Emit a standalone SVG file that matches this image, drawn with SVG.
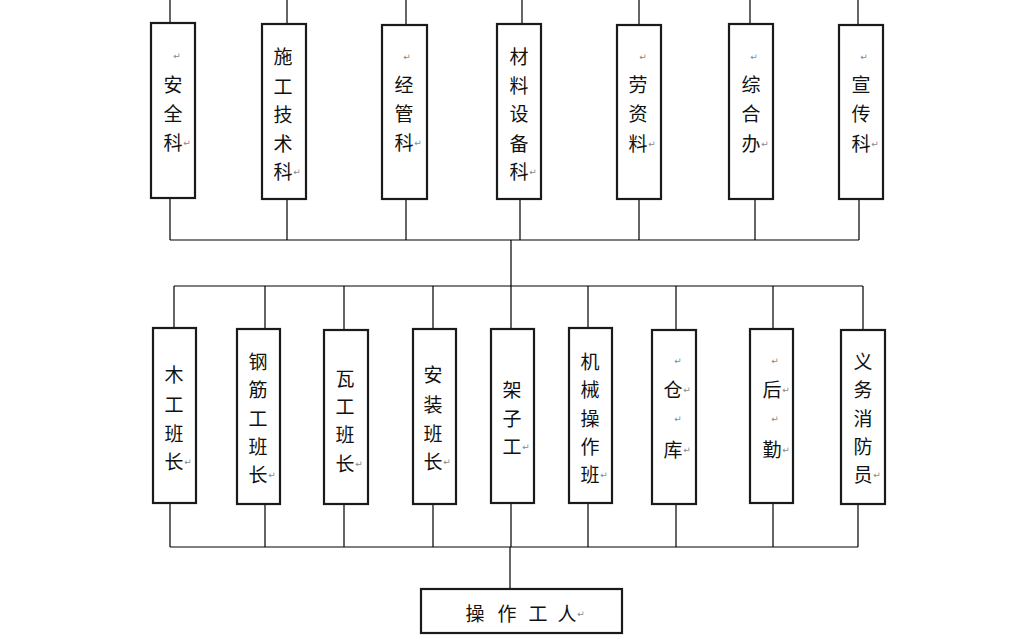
<svg xmlns="http://www.w3.org/2000/svg" width="1033" height="644" viewBox="0 0 1033 644">
<style>
.box{fill:#fff;stroke:#1a1a1a;stroke-width:2.2}
.ln{stroke:#000;stroke-width:1.2;fill:none}
.t{font-family:"Noto Sans CJK SC","Liberation Sans",sans-serif;font-size:19px;fill:#111;text-anchor:middle;dominant-baseline:central}
.m{font-family:"DejaVu Sans",sans-serif;font-size:9px;fill:#888;text-anchor:middle;dominant-baseline:central}
</style>
<rect width="1033" height="644" fill="#fff"/>
<g id="connectors">
<path class="ln" d="M170 0V23M287 0V24M406 0V25M522 0V24M639 0V25M750 0V24M858 0V25"/>
<path class="ln" d="M170 198V240M287 199V240M406 199V240M520 199V240M639 199V240M755 199V240M859 199V240M170 240H859"/>
<path class="ln" d="M511 240V286M174 286H863"/>
<path class="ln" d="M174 286V328M265 286V329M344 286V330M433 286V329M511 286V329M588 286V328M676 286V330M773 286V329M863 286V330"/>
<path class="ln" d="M170 503V547M265 504V547M344 504V547M433 504V547M511 503V547M588 503V547M676 504V547M773 503V547M858 504V547M170 547H858"/>
<path class="ln" d="M510 547V589"/>
</g>
<g id="n-anquanke"><rect class="box" x="151" y="23" width="44" height="175"/>
<text class="m" x="177" y="56">↵</text>
<text class="t"><tspan x="173" y="83">安</tspan><tspan x="173" y="112">全</tspan><tspan x="173" y="141">科</tspan></text><text class="m" x="187" y="143">↵</text></g>
<g id="n-shigong"><rect class="box" x="262" y="24" width="44" height="175"/>
<text class="t"><tspan x="283" y="55">施</tspan><tspan x="283" y="85">工</tspan><tspan x="283" y="113">技</tspan><tspan x="283" y="142">术</tspan><tspan x="283" y="170">科</tspan></text><text class="m" x="297" y="172">↵</text></g>
<g id="n-jingguan"><rect class="box" x="382" y="25" width="45" height="174"/>
<text class="m" x="407" y="57">↵</text>
<text class="t"><tspan x="404" y="83">经</tspan><tspan x="404" y="112">管</tspan><tspan x="404" y="141">科</tspan></text><text class="m" x="418" y="143">↵</text></g>
<g id="n-cailiao"><rect class="box" x="497" y="24" width="44" height="175"/>
<text class="t"><tspan x="519" y="55">材</tspan><tspan x="519" y="84">料</tspan><tspan x="519" y="112">设</tspan><tspan x="519" y="142">备</tspan><tspan x="519" y="170">科</tspan></text><text class="m" x="533" y="172">↵</text></g>
<g id="n-laozi"><rect class="box" x="617" y="25" width="44" height="174"/>
<text class="m" x="643" y="57">↵</text>
<text class="t"><tspan x="638" y="83">劳</tspan><tspan x="638" y="112">资</tspan><tspan x="638" y="142">料</tspan></text><text class="m" x="652" y="144">↵</text></g>
<g id="n-zonghe"><rect class="box" x="729" y="24" width="44" height="175"/>
<text class="m" x="754" y="57">↵</text>
<text class="t"><tspan x="751" y="83">综</tspan><tspan x="751" y="112">合</tspan><tspan x="751" y="142">办</tspan></text><text class="m" x="765" y="144">↵</text></g>
<g id="n-xuanchuan"><rect class="box" x="839" y="25" width="44" height="174"/>
<text class="m" x="864" y="57">↵</text>
<text class="t"><tspan x="861" y="83">宣</tspan><tspan x="861" y="112">传</tspan><tspan x="861" y="142">科</tspan></text><text class="m" x="875" y="144">↵</text></g>

<g id="n-mugong"><rect class="box" x="153" y="328" width="43" height="175"/>
<text class="t"><tspan x="174" y="373">木</tspan><tspan x="174" y="403">工</tspan><tspan x="174" y="432">班</tspan><tspan x="174" y="460">长</tspan></text><text class="m" x="188" y="462">↵</text></g>
<g id="n-gangjin"><rect class="box" x="237" y="329" width="43" height="175"/>
<text class="t"><tspan x="258" y="360">钢</tspan><tspan x="258" y="388">筋</tspan><tspan x="258" y="417">工</tspan><tspan x="258" y="445">班</tspan><tspan x="258" y="473">长</tspan></text><text class="m" x="272" y="475">↵</text></g>
<g id="n-wagong"><rect class="box" x="324" y="330" width="44" height="174"/>
<text class="t"><tspan x="345" y="377">瓦</tspan><tspan x="345" y="405">工</tspan><tspan x="345" y="433">班</tspan><tspan x="345" y="462">长</tspan></text><text class="m" x="359" y="464">↵</text></g>
<g id="n-anzhuang"><rect class="box" x="413" y="329" width="43" height="175"/>
<text class="t"><tspan x="433" y="373">安</tspan><tspan x="433" y="403">装</tspan><tspan x="433" y="432">班</tspan><tspan x="433" y="460">长</tspan></text><text class="m" x="447" y="462">↵</text></g>
<g id="n-jiazigong"><rect class="box" x="491" y="329" width="43" height="174"/>
<text class="t"><tspan x="512" y="388">架</tspan><tspan x="512" y="417">子</tspan><tspan x="512" y="445">工</tspan></text><text class="m" x="526" y="447">↵</text></g>
<g id="n-jixie"><rect class="box" x="569" y="328" width="43" height="175"/>
<text class="t"><tspan x="590" y="360">机</tspan><tspan x="590" y="388">械</tspan><tspan x="590" y="417">操</tspan><tspan x="590" y="445">作</tspan><tspan x="590" y="473">班</tspan></text><text class="m" x="604" y="475">↵</text></g>
<g id="n-cangku"><rect class="box" x="652" y="330" width="44" height="174"/>
<text class="m" x="678" y="361">↵</text><text class="m" x="678" y="419">↵</text>
<text class="t"><tspan x="673" y="388">仓</tspan><tspan x="673" y="448">库</tspan></text><text class="m" x="687" y="390">↵</text><text class="m" x="687" y="450">↵</text></g>
<g id="n-houqin"><rect class="box" x="750" y="329" width="43" height="174"/>
<text class="m" x="775" y="361">↵</text><text class="m" x="775" y="419">↵</text>
<text class="t"><tspan x="772" y="388">后</tspan><tspan x="772" y="448">勤</tspan></text><text class="m" x="786" y="390">↵</text><text class="m" x="786" y="450">↵</text></g>
<g id="n-xiaofang"><rect class="box" x="841" y="330" width="44" height="174"/>
<text class="t"><tspan x="863" y="360">义</tspan><tspan x="863" y="388">务</tspan><tspan x="863" y="417">消</tspan><tspan x="863" y="445">防</tspan><tspan x="863" y="473">员</tspan></text><text class="m" x="877" y="475">↵</text></g>

<g id="n-caozuo"><rect class="box" x="421" y="589" width="201" height="44"/>
<text class="t"><tspan x="475" y="612">操</tspan><tspan x="507" y="612">作</tspan><tspan x="538" y="612">工</tspan><tspan x="567" y="612">人</tspan></text><text class="m" x="581" y="614">↵</text></g>
</svg>
